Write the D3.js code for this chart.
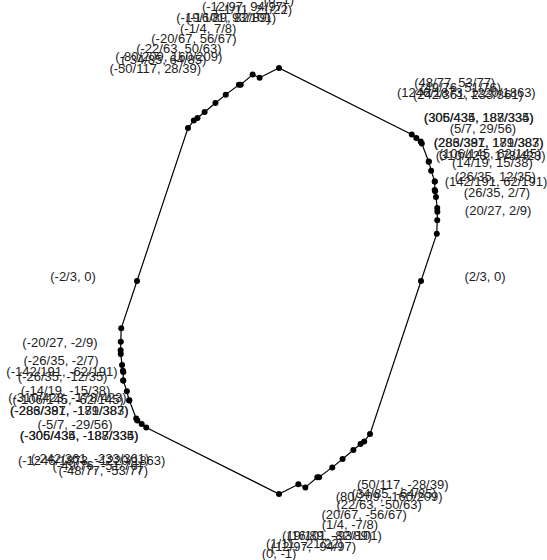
<!DOCTYPE html>
<html>
<head>
<meta charset="utf-8">
<script src="https://cdn.jsdelivr.net/npm/d3@7"></script>
<style>
  html, body { margin: 0; padding: 0; background: #fff; }
  svg { display: block; }
</style>
</head>
<body>
<svg id="chart" width="547" height="560"></svg>
<script>
// Vertex coordinates (as fractions), in drawing order around the polygon
const xFrac = [
  "2/3", "20/27", "26/35", "142/191", "26/35", "14/19", "310/423", "106/145",
  "286/391", "283/387", "5/7", "306/435", "305/434", "242/361", "1246/1873",
  "49/76", "48/77", "0", "-1/11", "-12/97", "-16/89", "-19/101", "-1/4",
  "-20/67", "-22/63", "-80/209", "-34/85", "-50/117",
  "-2/3", "-20/27", "-26/35", "-142/191", "-26/35", "-14/19", "-310/423", "-106/145",
  "-286/391", "-283/387", "-5/7", "-306/435", "-305/434", "-242/361", "-1246/1873",
  "-49/76", "-48/77", "0", "1/11", "12/97", "16/89", "19/101", "1/4",
  "20/67", "22/63", "80/209", "34/85", "50/117"
];
const yFrac = [
  "0", "2/9", "2/7", "62/191", "12/35", "15/38", "178/423", "62/145",
  "179/383", "181/387", "29/56", "188/335", "187/334", "233/361", "1220/1863",
  "51/76", "53/77", "1", "21/22", "94/97", "82/89", "93/101", "7/8",
  "56/67", "50/63", "160/209", "64/85", "28/39",
  "0", "-2/9", "-2/7", "-62/191", "-12/35", "-15/38", "-178/423", "-62/145",
  "-179/383", "-181/387", "-29/56", "-188/335", "-187/334", "-233/361", "-1220/1863",
  "-51/76", "-53/77", "-1", "-21/22", "-94/97", "-82/89", "-93/101", "-7/8",
  "-56/67", "-50/63", "-160/209", "-64/85", "-28/39"
];

const parseFrac = s => {
  const p = s.split("/");
  return p.length === 2 ? (+p[0]) / (+p[1]) : +p[0];
};

const points = xFrac.map((xs, i) => ({
  x: parseFrac(xs),
  y: parseFrac(yFrac[i]),
  label: "(" + xs + ", " + yFrac[i] + ")"
}));

const svg = d3.select("#chart");
const x = d3.scaleLinear().domain([-1, 1]).range([66, 492]);
const y = d3.scaleLinear().domain([-1, 1]).range([494, 68]);

const line = d3.line().x(d => x(d.x)).y(d => y(d.y)).curve(d3.curveLinearClosed);

svg.append("path")
  .datum(points)
  .attr("d", line)
  .attr("fill", "none")
  .attr("stroke", "#000")
  .attr("stroke-width", 1.2);

svg.append("g").selectAll("circle")
  .data(points)
  .join("circle")
  .attr("cx", d => x(d.x))
  .attr("cy", d => y(d.y))
  .attr("r", 3)
  .attr("fill", "#000");

const off = 64;
svg.append("g").selectAll("text")
  .data(points)
  .join("text")
  .attr("x", d => {
    const dx = x(d.x) - x(0), dy = y(d.y) - y(0);
    const L = Math.hypot(dx, dy) || 1;
    return x(d.x) + off * dx / L;
  })
  .attr("y", d => {
    const dx = x(d.x) - x(0), dy = y(d.y) - y(0);
    const L = Math.hypot(dx, dy) || 1;
    return y(d.y) + off * dy / L;
  })
  .attr("text-anchor", "middle")
  .attr("font-family", "'Liberation Sans', Arial, Helvetica, sans-serif")
  .attr("font-size", 13)
  .attr("fill", "#222")
  .text(d => d.label);
</script>
</body>
</html>
